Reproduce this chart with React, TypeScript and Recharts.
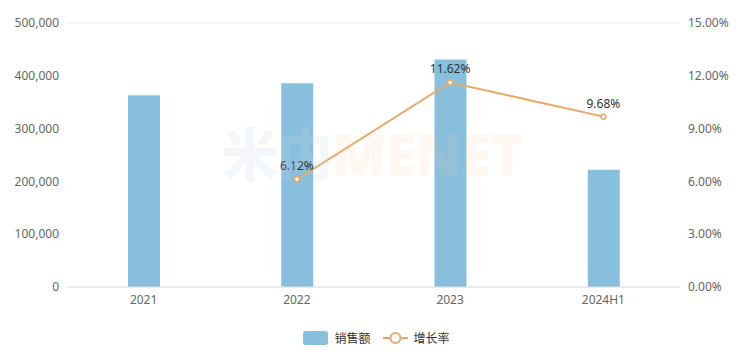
import { ComposedChart, Bar, Line, XAxis, YAxis, CartesianGrid, Legend, LabelList } from 'recharts';

const years = ['2021', '2022', '2023', '2024H1'];
const sales = [363000, 386000, 431000, 222000];
const growth: (number | null)[] = [null, 6.12, 11.62, 9.68];
const leftTicks = [0, 100000, 200000, 300000, 400000, 500000];
const rightTicks = [0, 3, 6, 9, 12, 15];

const data = years.map((name, i) => ({ name, sales: sales[i], growth: growth[i] }));

const FONT = '"Noto Sans", "Noto Sans CJK SC", sans-serif';
const BAR_COLOR = '#88bfdd';
const LINE_COLOR = '#e8a96a';

function LegendContent() {
  return (
    <div style={{ display: 'flex', justifyContent: 'center', alignItems: 'center', marginTop: 14, fontFamily: FONT, fontSize: 12, color: '#333' }}>
      <span style={{ display: 'inline-block', width: 25, height: 14, borderRadius: 3, background: BAR_COLOR, marginRight: 6 }} />
      <span style={{ marginRight: 12 }}>销售额</span>
      <svg width={25} height={14} style={{ marginRight: 6 }}>
        <line x1={0} y1={7} x2={25} y2={7} stroke={LINE_COLOR} strokeWidth={2} />
        <circle cx={12.5} cy={7} r={5} fill="#fff" stroke={LINE_COLOR} strokeWidth={2} />
      </svg>
      <span>增长率</span>
    </div>
  );
}

export default function App() {
  return (
    <div style={{ position: 'absolute', left: 0, top: 0, width: 753, height: 359, background: '#fff' }}>
      <ComposedChart width={753} height={359} data={data} margin={{ top: 23, right: 0, left: 0, bottom: 12 }}>
        <CartesianGrid vertical={false} stroke="#eeeeee" />
        <XAxis
          dataKey="name"
          height={28}
          tickLine={false}
          axisLine={{ stroke: '#e0e0e0' }}
          tick={{ fill: '#666', fontSize: 12, fontFamily: FONT }}
        />
        <YAxis
          yAxisId="left"
          width={67}
          domain={[0, 500000]}
          ticks={leftTicks}
          tickLine={false}
          axisLine={false}
          tickFormatter={(v: number) => v.toLocaleString('en-US')}
          tick={{ fill: '#666', fontSize: 12, fontFamily: FONT }}
        />
        <YAxis
          yAxisId="right"
          orientation="right"
          width={73}
          domain={[0, 15]}
          ticks={rightTicks}
          tickLine={false}
          axisLine={false}
          tickFormatter={(v: number) => v.toFixed(2) + '%'}
          tick={{ fill: '#666', fontSize: 12, fontFamily: FONT, textAnchor: 'start' }}
        />
        <Legend verticalAlign="bottom" height={32} content={<LegendContent />} />
        <Bar yAxisId="left" dataKey="sales" name="销售额" fill={BAR_COLOR} barSize={32} isAnimationActive={false} />
        <Line
          yAxisId="right"
          dataKey="growth"
          name="增长率"
          type="linear"
          stroke={LINE_COLOR}
          strokeWidth={2}
          dot={{ r: 2.5, fill: '#fff', stroke: LINE_COLOR, strokeWidth: 1.5 }}
          isAnimationActive={false}
        >
          <LabelList
            dataKey="growth"
            position="top"
            offset={9}
            formatter={(v: any) => (v == null ? '' : Number(v).toFixed(2) + '%')}
            style={{ fill: '#333', fontSize: 12, fontFamily: FONT }}
          />
        </Line>
      </ComposedChart>
      <div
        style={{
          position: 'absolute',
          left: 222,
          top: 118,
          fontFamily: FONT,
          fontWeight: 900,
          fontSize: 56,
          lineHeight: '70px',
          letterSpacing: -1,
          pointerEvents: 'none',
          whiteSpace: 'nowrap',
        }}
      >
        <span style={{ color: 'rgba(200,215,225,0.2)' }}>米内</span>
        <span style={{ color: 'rgba(250,200,160,0.14)' }}>MENET</span>
      </div>
    </div>
  );
}
